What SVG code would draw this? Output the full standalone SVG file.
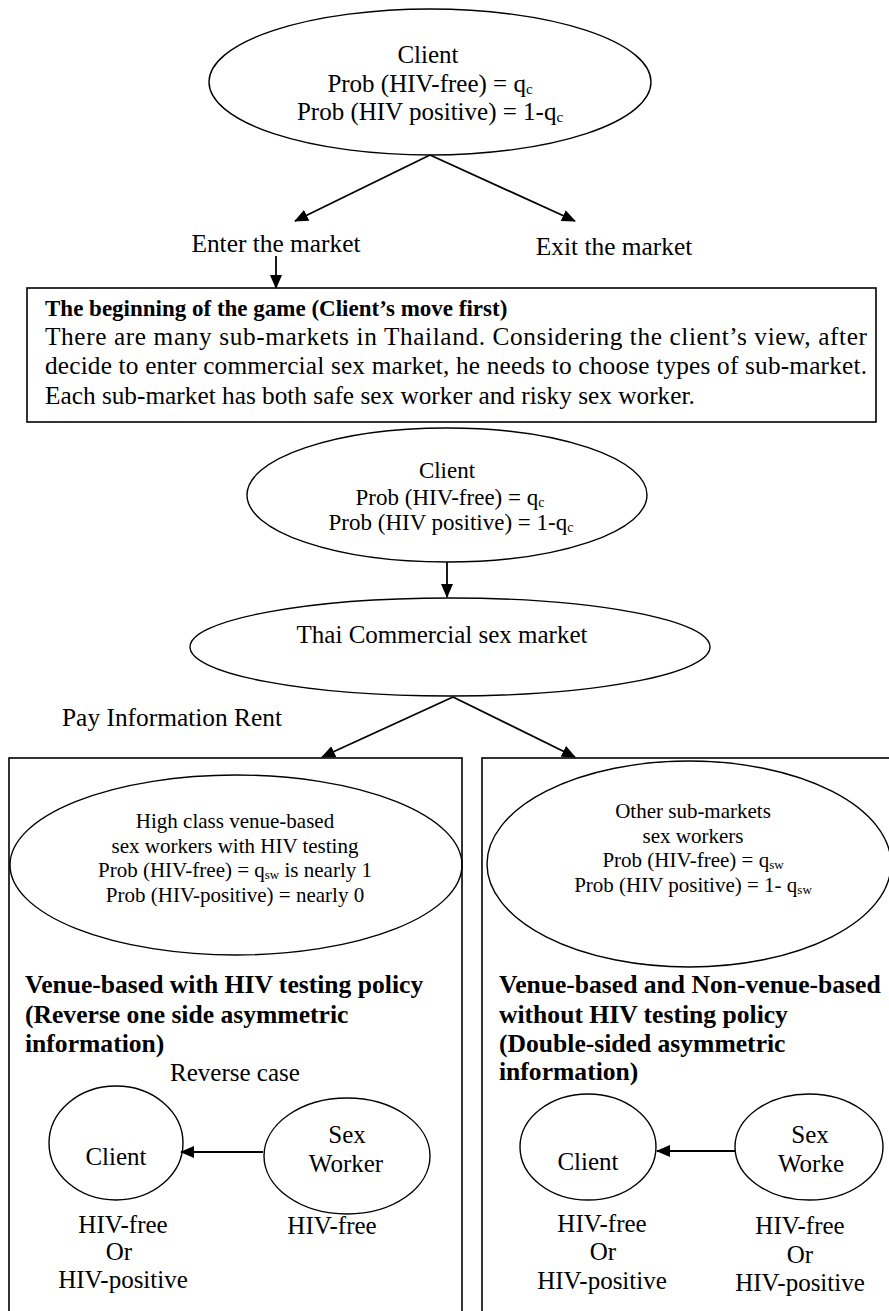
<svg xmlns="http://www.w3.org/2000/svg" width="889" height="1311" viewBox="0 0 889 1311">
  <style>
    .t { font-family: "Liberation Serif", "Times New Roman", serif; fill: #000; }
    .b { font-weight: bold; }
    .shape { fill: none; stroke: #000; stroke-width: 1.4; }
    .frame { fill: none; stroke: #000; stroke-width: 1.6; }
    .conn { fill: none; stroke: #000; stroke-width: 1.8; marker-end: url(#ah); }
  </style>
  <defs>
    <marker id="ah" markerWidth="14" markerHeight="12" refX="13" refY="6" orient="auto" markerUnits="userSpaceOnUse">
      <path d="M0,0 L14,6 L0,12 z" fill="#000"/>
    </marker>
  </defs>
  <rect width="889" height="1311" fill="#fff"/>

  <!-- top decision: client -->
  <g id="client-top">
    <ellipse class="shape" cx="430" cy="82" rx="221" ry="73"/>
    <text class="t" font-size="25" text-anchor="middle" x="428" y="63">Client</text>
    <text class="t" font-size="25" text-anchor="middle" x="430" y="92">Prob (HIV-free) = q<tspan font-size="15" dy="2">c</tspan></text>
    <text class="t" font-size="25" text-anchor="middle" x="430" y="120">Prob (HIV positive) = 1-q<tspan font-size="15" dy="2">c</tspan></text>
  </g>

  <g id="enter-market">
    <text class="t" font-size="25.4" text-anchor="middle" x="276" y="252">Enter the market</text>
  </g>
  <g id="exit-market">
    <text class="t" font-size="25.4" text-anchor="middle" x="614" y="255">Exit the market</text>
  </g>

  <!-- description of the first move -->
  <g id="game-start">
    <rect class="frame" x="27" y="288" width="849" height="134"/>
    <text class="t b" font-size="23" x="45" y="316">The beginning of the game (Client’s move first)</text>
    <text class="t" font-size="25.3" x="45" y="345" textLength="822" lengthAdjust="spacing">There are many sub-markets in Thailand. Considering the client’s view, after</text>
    <text class="t" font-size="25.3" x="45" y="374" textLength="822" lengthAdjust="spacing">decide to enter commercial sex market, he needs to choose types of sub-market.</text>
    <text class="t" font-size="25.3" x="45" y="404">Each sub-market has both safe sex worker and risky sex worker.</text>
  </g>

  <g id="client-mid">
    <ellipse class="shape" cx="447" cy="495" rx="200" ry="67"/>
    <text class="t" font-size="23" text-anchor="middle" x="447" y="478">Client</text>
    <text class="t" font-size="23" text-anchor="middle" x="450" y="505">Prob (HIV-free) = q<tspan font-size="14" dy="2">c</tspan></text>
    <text class="t" font-size="23" text-anchor="middle" x="451" y="530">Prob (HIV positive) = 1-q<tspan font-size="14" dy="2">c</tspan></text>
  </g>

  <g id="thai-market">
    <ellipse class="shape" cx="450" cy="647" rx="260" ry="49"/>
    <text class="t" font-size="25" text-anchor="middle" x="442" y="643">Thai Commercial sex market</text>
  </g>

  <g id="info-rent">
    <text class="t" font-size="25.4" x="62" y="726">Pay Information Rent</text>
  </g>

  <!-- left branch: venue-based with testing -->
  <g id="venue-testing">
    <rect class="frame" x="9" y="758" width="453" height="600"/>
    <ellipse class="shape" cx="236" cy="865" rx="226" ry="90"/>
    <text class="t" font-size="21" text-anchor="middle" x="235" y="828">High class venue-based</text>
    <text class="t" font-size="21" text-anchor="middle" x="235" y="853">sex workers with HIV testing</text>
    <text class="t" font-size="21" text-anchor="middle" x="235" y="877">Prob (HIV-free) = q<tspan font-size="13" dy="2">sw</tspan><tspan dy="-2"> is nearly 1</tspan></text>
    <text class="t" font-size="21" text-anchor="middle" x="235" y="902">Prob (HIV-positive) = nearly 0</text>
    <text class="t b" font-size="25.6" x="25" y="993">Venue-based with HIV testing policy</text>
    <text class="t b" font-size="25.6" x="25" y="1023">(Reverse one side asymmetric</text>
    <text class="t b" font-size="25.6" x="25" y="1052">information)</text>
    <text class="t" font-size="25" text-anchor="middle" x="235" y="1081">Reverse case</text>
  </g>

  <g id="client-left">
    <ellipse class="shape" cx="116" cy="1143" rx="67" ry="57"/>
    <text class="t" font-size="25" text-anchor="middle" x="116" y="1165">Client</text>
    <text class="t" font-size="25" text-anchor="middle" x="123" y="1233">HIV-free</text>
    <text class="t" font-size="25" text-anchor="middle" x="119" y="1260">Or</text>
    <text class="t" font-size="25" text-anchor="middle" x="123" y="1288">HIV-positive</text>
  </g>

  <g id="worker-left">
    <ellipse class="shape" cx="347" cy="1156" rx="83" ry="58"/>
    <text class="t" font-size="25" text-anchor="middle" x="347" y="1143">Sex</text>
    <text class="t" font-size="25" text-anchor="middle" x="346" y="1172">Worker</text>
    <text class="t" font-size="25" text-anchor="middle" x="332" y="1234">HIV-free</text>
  </g>

  <!-- right branch: other sub-markets -->
  <g id="other-markets">
    <rect class="frame" x="482" y="758" width="420" height="600"/>
    <ellipse class="shape" cx="689" cy="864" rx="202" ry="103"/>
    <text class="t" font-size="21" text-anchor="middle" x="693" y="818">Other sub-markets</text>
    <text class="t" font-size="21" text-anchor="middle" x="693" y="843">sex workers</text>
    <text class="t" font-size="21" text-anchor="middle" x="693" y="867">Prob (HIV-free) = q<tspan font-size="13" dy="2">sw</tspan></text>
    <text class="t" font-size="21" text-anchor="middle" x="693" y="892">Prob (HIV positive) = 1- q<tspan font-size="13" dy="2">sw</tspan></text>
    <text class="t b" font-size="25.6" x="499" y="993">Venue-based and Non-venue-based</text>
    <text class="t b" font-size="25.6" x="499" y="1023">without HIV testing policy</text>
    <text class="t b" font-size="25.6" x="499" y="1052">(Double-sided asymmetric</text>
    <text class="t b" font-size="25.6" x="499" y="1080">information)</text>
  </g>

  <g id="client-right">
    <ellipse class="shape" cx="588" cy="1147" rx="68" ry="53"/>
    <text class="t" font-size="25" text-anchor="middle" x="588" y="1170">Client</text>
    <text class="t" font-size="25" text-anchor="middle" x="602" y="1232">HIV-free</text>
    <text class="t" font-size="25" text-anchor="middle" x="603" y="1260">Or</text>
    <text class="t" font-size="25" text-anchor="middle" x="602" y="1289">HIV-positive</text>
  </g>

  <g id="worker-right">
    <ellipse class="shape" cx="809" cy="1147" rx="74" ry="53"/>
    <text class="t" font-size="25" text-anchor="middle" x="810" y="1143">Sex</text>
    <text class="t" font-size="25" text-anchor="middle" x="811" y="1172">Worke</text>
    <text class="t" font-size="25" text-anchor="middle" x="800" y="1234">HIV-free</text>
    <text class="t" font-size="25" text-anchor="middle" x="800" y="1263">Or</text>
    <text class="t" font-size="25" text-anchor="middle" x="800" y="1291">HIV-positive</text>
  </g>

  <g id="connectors">
    <line class="conn" x1="430" y1="155" x2="295" y2="221"/>
    <line class="conn" x1="430" y1="155" x2="575" y2="221"/>
    <line class="conn" x1="276" y1="256" x2="276" y2="288"/>
    <line class="conn" x1="447" y1="562" x2="447" y2="597"/>
    <line class="conn" x1="453" y1="697" x2="322" y2="757"/>
    <line class="conn" x1="453" y1="697" x2="575" y2="757"/>
    <line class="conn" x1="263" y1="1152" x2="181" y2="1152"/>
    <line class="conn" x1="735" y1="1151" x2="657" y2="1151"/>
  </g>
</svg>
